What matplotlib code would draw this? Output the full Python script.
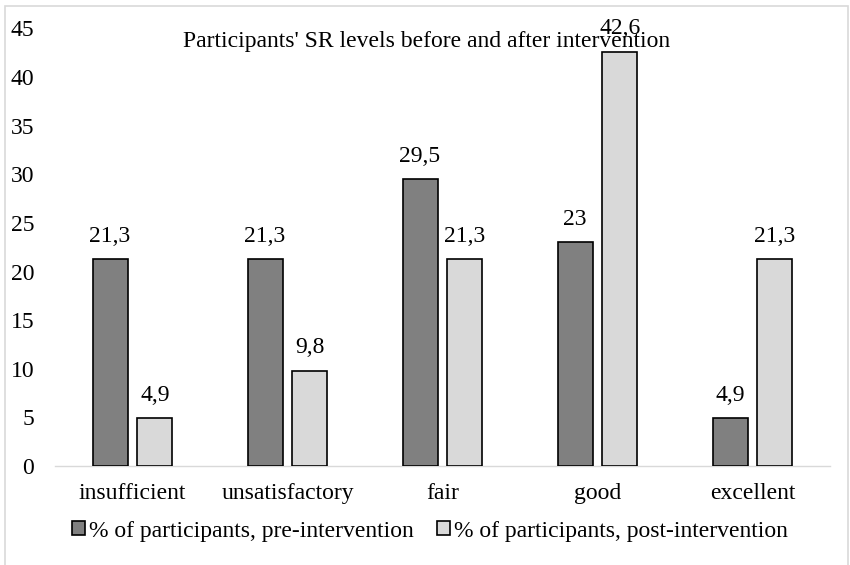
import matplotlib
matplotlib.use("Agg")
import matplotlib.pyplot as plt
import numpy as np
from matplotlib.patches import Rectangle

categories = ["insufficient", "unsatisfactory", "fair", "good", "excellent"]
pre_values = [21.3, 21.3, 29.5, 23, 4.9]
post_values = [4.9, 9.8, 21.3, 42.6, 21.3]
series_names = ["% of participants, pre-intervention", "% of participants, post-intervention"]
title = "Participants' SR levels before and after intervention"

plt.rcParams["font.family"] = ["Liberation Serif", "DejaVu Serif"]
FS = 17

W, H = 850, 565
fig = plt.figure(figsize=(W / 100, H / 100), dpi=100)
ax = fig.add_axes([55 / W, 1 - 466 / H, 775 / W, (466 - 28.5) / H])

x = np.arange(len(categories))
bw = 0.226
off = 0.145
b1 = ax.bar(x - off, pre_values, bw, color="#808080", edgecolor="black", linewidth=1.2,
            label=series_names[0], zorder=3)
b2 = ax.bar(x + off, post_values, bw, color="#d9d9d9", edgecolor="black", linewidth=1.2,
            label=series_names[1], zorder=3)


def fmt(v):
    return ("%g" % v).replace(".", ",")


for bars, vals in ((b1, pre_values), (b2, post_values)):
    for rect, v in zip(bars, vals):
        ax.annotate(fmt(v), (rect.get_x() + rect.get_width() / 2, v), xytext=(0, 12.5),
                    textcoords="offset points", ha="center", va="baseline", fontsize=FS, zorder=4)

ax.set_xlim(-0.5, len(categories) - 0.5)
ax.set_ylim(0, 45)
ax.set_yticks(np.arange(0, 46, 5))
ax.set_xticks(x)
ax.set_xticklabels(categories)
ax.tick_params(axis="both", length=0, labelsize=FS)
ax.tick_params(axis="x", pad=12)
ax.tick_params(axis="y", pad=15)
for s in ("top", "right", "left"):
    ax.spines[s].set_visible(False)
ax.spines["bottom"].set_color("#d9d9d9")
ax.spines["bottom"].set_linewidth(1.0)

fig.text(427 / W, 1 - 47.5 / H, title, ha="center", va="baseline", fontsize=FS)

leg = fig.legend(handles=[b1, b2], loc="center", bbox_to_anchor=(430 / W, 1 - 531 / H),
                 ncol=2, frameon=False, fontsize=FS, handlelength=0.55, handleheight=0.55,
                 handletextpad=0.17, columnspacing=0.95, borderpad=0)

fig.patches.append(Rectangle((5 / W, -0.05), 843 / W, 1.05 - 6 / H, transform=fig.transFigure,
                             fill=False, edgecolor="#d9d9d9", linewidth=1.2))

fig.savefig("out.png", dpi=100)
